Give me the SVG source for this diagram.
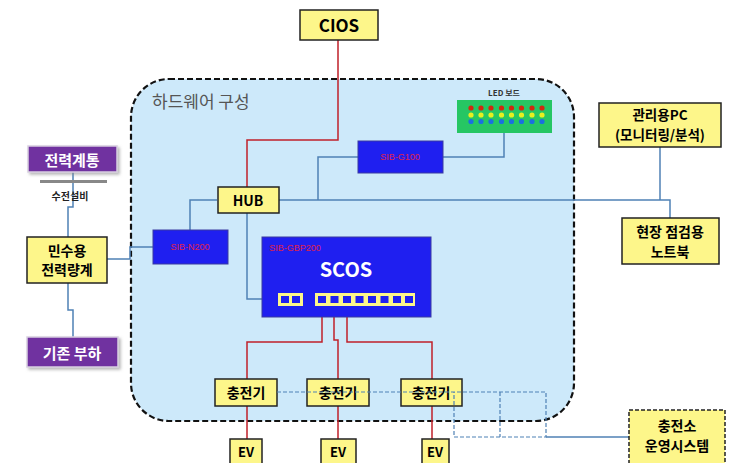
<svg xmlns="http://www.w3.org/2000/svg" width="729" height="463" viewBox="0 0 729 463">
<defs>
<style>
.k{font-family:"Noto Sans CJK KR","Noto Sans",sans-serif;font-weight:bold;text-anchor:middle}
.yb{fill:#fdf68a;stroke:#222;stroke-width:1.5}
.pb{fill:#7030a0;stroke:#d8d0e0;stroke-width:1.5}
.db{fill:#1f1ff0;stroke:#3a3aa0;stroke-width:1}
.bl{fill:none;stroke:#4f81b5;stroke-width:1.5}
.rl{fill:none;stroke:#c0202a;stroke-width:1.5}
.dl{fill:none;stroke:#4f81b5;stroke-width:1.2;stroke-dasharray:4,2}
.sib{font-family:"Liberation Sans",sans-serif;font-size:9px;fill:#e0204a;text-anchor:middle}
</style>
<linearGradient id="pg" x1="0" y1="0" x2="0" y2="1"><stop offset="0" stop-color="#8a4cc0"/><stop offset="1" stop-color="#5e2590"/></linearGradient>
<filter id="sh" x="-10%" y="-10%" width="130%" height="140%"><feDropShadow dx="2" dy="2" stdDeviation="1.5" flood-color="#888" flood-opacity="0.6"/></filter>
</defs>
<rect width="729" height="463" fill="#fff"/>
<g id="container">
<rect x="131" y="79" width="443" height="342" rx="38" fill="#cde9fa" stroke="#111" stroke-width="2.2" stroke-dasharray="6,3"/>
<text x="152" y="108" font-family="'Noto Sans CJK KR',sans-serif" font-size="17" fill="#555">하드웨어 구성</text>
</g>
<g id="connectors">
<path class="rl" d="M338 40 V140 H247 V187"/>
<path class="bl" d="M279 200 H670 V218"/>
<path class="bl" d="M660 147 V200"/>
<path class="bl" d="M318 200 V157 H358"/>
<path class="bl" d="M443 157 H504 V133"/>
<path class="bl" d="M217 200 H190 V230"/>
<path class="bl" d="M247 213 V299 H278"/>
<path class="bl" d="M73 172 V207 H68 V237"/>
<path class="bl" d="M107 259 H130 V247 H153"/>
<path class="bl" d="M68 283 V310 H73 V337"/>
<path class="rl" d="M322 306 V342 H247 V379"/>
<path class="rl" d="M334 306 V340 H338 V379"/>
<path class="rl" d="M347 306 V342 H432 V379"/>
<path class="rl" d="M247 406 V439 M338 406 V439 M432 406 V439"/>
<path class="bl" d="M546 437 H629"/>
</g>
<g id="cios"><rect class="yb" x="300" y="10" width="78" height="30"/><text class="k" x="339" y="32" font-size="17">CIOS</text></g>
<g id="hub"><rect class="yb" x="218" y="187" width="61" height="26"/><text class="k" x="248" y="206" font-size="14">HUB</text></g>
<g id="sib-g100"><rect class="db" x="358" y="141" width="85" height="32"/><text class="sib" x="400" y="160">SIB-G100</text></g>
<g id="led">
<text class="k" x="504" y="96" font-size="8" fill="#333">LED 보드</text>
<rect x="457" y="100" width="95" height="33" fill="#26c663"/>
<g fill="#d02a10"><circle cx="471" cy="108" r="2.6"/><circle cx="481" cy="108" r="2.6"/><circle cx="491" cy="108" r="2.6"/><circle cx="501.5" cy="108" r="2.6"/><circle cx="511.5" cy="108" r="2.6"/><circle cx="521.5" cy="108" r="2.6"/><circle cx="532" cy="108" r="2.6"/><circle cx="542" cy="108" r="2.6"/></g>
<g fill="#e8f020"><circle cx="471" cy="115" r="2.6"/><circle cx="481" cy="115" r="2.6"/><circle cx="491" cy="115" r="2.6"/><circle cx="501.5" cy="115" r="2.6"/><circle cx="511.5" cy="115" r="2.6"/><circle cx="521.5" cy="115" r="2.6"/><circle cx="532" cy="115" r="2.6"/><circle cx="542" cy="115" r="2.6"/></g>
<g fill="#1a70e0"><circle cx="471" cy="121.5" r="2.6"/><circle cx="481" cy="121.5" r="2.6"/><circle cx="491" cy="121.5" r="2.6"/><circle cx="501.5" cy="121.5" r="2.6"/><circle cx="511.5" cy="121.5" r="2.6"/><circle cx="521.5" cy="121.5" r="2.6"/><circle cx="532" cy="121.5" r="2.6"/><circle cx="542" cy="121.5" r="2.6"/></g>
</g>
<g id="pc"><rect class="yb" x="599" y="103" width="122" height="44"/><text class="k" x="660" y="120" font-size="13.5">관리용PC</text><text class="k" x="660" y="140" font-size="13.5">(모니터링/분석)</text></g>
<g id="notebook"><rect class="yb" x="622" y="218" width="97" height="46"/><text class="k" x="670" y="237" font-size="14">현장 점검용</text><text class="k" x="670" y="257" font-size="14">노트북</text></g>
<g id="sib-n200"><rect class="db" x="153" y="230" width="75" height="34"/><text class="sib" x="190" y="250">SIB-N200</text></g>
<g id="scos">
<rect class="db" x="262" y="237" width="169" height="80"/>
<text class="sib" x="295" y="251">SIB-GBP200</text>
<text class="k" x="346" y="277" font-size="20" fill="#fff">SCOS</text>
<rect x="278" y="293" width="25" height="13" fill="#fdf68a"/>
<rect x="281" y="296" width="8" height="7" fill="#1f1ff0"/><rect x="292" y="296" width="8" height="7" fill="#1f1ff0"/>
<rect x="315" y="293" width="100" height="13" fill="#fdf68a"/>
<g fill="#1f1ff0"><rect x="318" y="296" width="8" height="7"/><rect x="330.5" y="296" width="8" height="7"/><rect x="343" y="296" width="8" height="7"/><rect x="355.5" y="296" width="8" height="7"/><rect x="368" y="296" width="8" height="7"/><rect x="380.5" y="296" width="8" height="7"/><rect x="393" y="296" width="8" height="7"/><rect x="405" y="296" width="8" height="7"/></g>
</g>
<g id="grid-power"><rect class="pb" x="28" y="146" width="89" height="26" fill="url(#pg)" filter="url(#sh)"/><text class="k" x="72" y="166" font-size="15" fill="#fff">전력계통</text>
<rect x="40" y="180" width="67" height="3" fill="#888"/>
<text class="k" x="70" y="200" font-size="10" fill="#222">수전설비</text></g>
<g id="meter"><rect class="yb" x="27" y="237" width="80" height="46"/><text class="k" x="67" y="256" font-size="14">민수용</text><text class="k" x="67" y="275" font-size="14">전력량계</text></g>
<g id="load"><rect class="pb" x="27" y="337" width="91" height="30" fill="url(#pg)" filter="url(#sh)"/><text class="k" x="72" y="359" font-size="15" fill="#fff">기존 부하</text></g>
<g id="charger1"><rect class="yb" x="215" y="379" width="62" height="27"/><text class="k" x="246" y="398" font-size="14">충전기</text></g>
<g id="charger2"><rect class="yb" x="307" y="379" width="62" height="27"/><text class="k" x="338" y="398" font-size="14">충전기</text></g>
<g id="charger3"><rect class="yb" x="401" y="379" width="61" height="27"/><text class="k" x="431" y="398" font-size="14">충전기</text></g>
<g id="ev1"><rect class="yb" x="230" y="439" width="32" height="30"/><text class="k" x="246" y="457" font-size="13">EV</text></g>
<g id="ev2"><rect class="yb" x="321" y="439" width="35" height="30"/><text class="k" x="338" y="457" font-size="13">EV</text></g>
<g id="ev3"><rect class="yb" x="422" y="439" width="27" height="30"/><text class="k" x="435" y="457" font-size="13">EV</text></g>
<g id="dashed-links"><path class="dl" d="M277 392 H546 V437 H454 V392 M500 392 V437"/></g>
<g id="station"><rect x="629" y="410" width="96" height="60" fill="#fdf68a" stroke="#222" stroke-width="1.5" stroke-dasharray="4,2"/><text class="k" x="677" y="431" font-size="14">충전소</text><text class="k" x="677" y="451" font-size="14">운영시스템</text></g>
</svg>
